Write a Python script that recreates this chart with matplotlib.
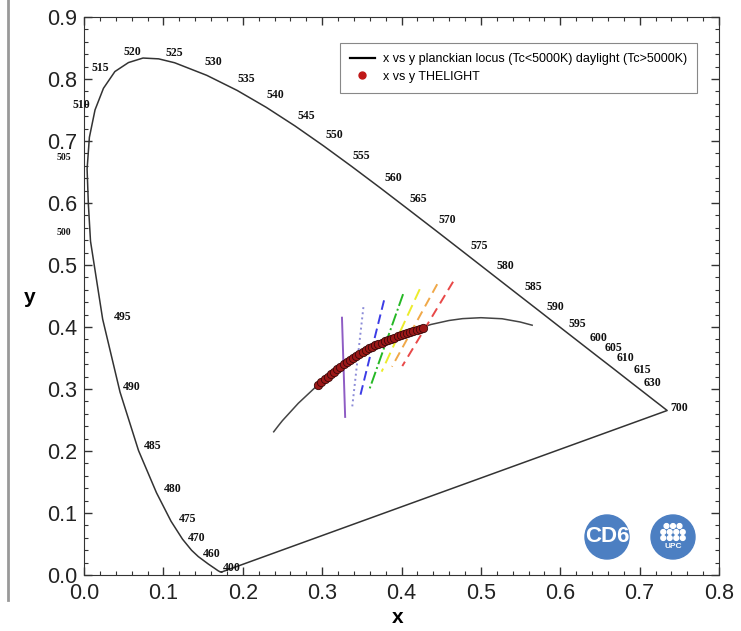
import matplotlib
matplotlib.use('Agg')
import matplotlib.pyplot as plt
import matplotlib.patches as mpatches
from matplotlib.lines import Line2D
from matplotlib.ticker import MultipleLocator

# CIE 1931 spectral locus (wavelength nm, x, y)
locus_nm = [400, 410, 420, 430, 440, 450, 460, 465, 470, 475, 480, 485, 490, 495,
            500, 502.5, 505, 507.5, 510, 512.5, 515, 517.5, 520, 522.5, 525, 530, 535,
            540, 545, 550, 555, 560, 565, 570, 575, 580, 585, 590, 595, 600, 605,
            610, 615, 620, 630, 640, 650, 660, 700]
locus_x = [0.1733, 0.1726, 0.1714, 0.1689, 0.1644, 0.1566, 0.1440, 0.1355, 0.1241, 0.1096,
           0.0913, 0.0687, 0.0454, 0.0235, 0.0082, 0.0055, 0.0039, 0.0068, 0.0139, 0.0245,
           0.0389, 0.0560, 0.0743, 0.0940, 0.1142, 0.1547, 0.1929, 0.2296, 0.2658, 0.3016,
           0.3373, 0.3731, 0.4087, 0.4441, 0.4788, 0.5125, 0.5448, 0.5752, 0.6029, 0.6270,
           0.6482, 0.6658, 0.6801, 0.6915, 0.7079, 0.7190, 0.7260, 0.7300, 0.7347]
locus_y = [0.0048, 0.0048, 0.0051, 0.0069, 0.0109, 0.0177, 0.0297, 0.0399, 0.0578, 0.0868,
           0.1327, 0.2007, 0.2950, 0.4127, 0.5384, 0.5980, 0.6548, 0.7060, 0.7502, 0.7850,
           0.8120, 0.8265, 0.8338, 0.8325, 0.8262, 0.8059, 0.7816, 0.7543, 0.7243, 0.6923,
           0.6589, 0.6245, 0.5896, 0.5547, 0.5202, 0.4866, 0.4544, 0.4242, 0.3965, 0.3725,
           0.3514, 0.3340, 0.3197, 0.3083, 0.2920, 0.2809, 0.2740, 0.2700, 0.2653]

# wavelengths printed next to the locus
label_nm = [400, 460, 470, 475, 480, 485, 490, 495, 500, 505, 510, 515, 520, 525, 530,
            535, 540, 545, 550, 555, 560, 565, 570, 575, 580, 585, 590, 595, 600, 605,
            610, 615, 630, 700]

# planckian locus (Tc<5000K) / daylight locus (Tc>5000K)
planck_x = [0.239, 0.245, 0.250, 0.255, 0.260, 0.270, 0.280, 0.290, 0.300, 0.3127, 0.325,
            0.3457, 0.3611, 0.3805, 0.4053, 0.4369, 0.4599, 0.4770, 0.5000, 0.5267, 0.5494,
            0.5646]
planck_y = [0.231, 0.241, 0.249, 0.256, 0.263, 0.277, 0.289, 0.301, 0.312, 0.325, 0.337,
            0.355, 0.3665, 0.3770, 0.3905, 0.4040, 0.4105, 0.4135, 0.4150, 0.4133, 0.4081,
            0.4029]

# THELIGHT measurements
light_x = [0.295, 0.299, 0.303, 0.307, 0.311, 0.315, 0.319, 0.323, 0.327, 0.331, 0.335,
           0.339, 0.343, 0.347, 0.351, 0.355, 0.359, 0.363, 0.367, 0.371, 0.375, 0.379,
           0.383, 0.387, 0.391, 0.395, 0.399, 0.403, 0.407, 0.411, 0.415, 0.419, 0.423,
           0.427]
light_y = [0.307, 0.311, 0.316, 0.320, 0.324, 0.328, 0.332, 0.336, 0.340, 0.343, 0.347,
           0.350, 0.354, 0.357, 0.360, 0.363, 0.366, 0.368, 0.371, 0.373, 0.375, 0.377,
           0.379, 0.381, 0.383, 0.385, 0.387, 0.389, 0.390, 0.392, 0.393, 0.395, 0.397,
           0.399]

# isotemperature segments (top end, bottom end)
iso_top_x = [0.325, 0.352, 0.378, 0.402, 0.423, 0.445, 0.465]
iso_top_y = [0.415, 0.432, 0.443, 0.453, 0.461, 0.469, 0.473]
iso_bot_x = [0.329, 0.338, 0.348, 0.360, 0.375, 0.388, 0.401]
iso_bot_y = [0.255, 0.272, 0.289, 0.301, 0.328, 0.336, 0.337]
iso_colors = ['#8e5cc4', '#8c8cd8', '#3c3ce6', '#25b825', '#ecec2c', '#f0a848', '#e84848']
iso_styles = ['-', ':', (0, (5, 2.5)), '-.', (0, (6, 3)), (0, (5, 3)), (0, (5, 3))]

# label offsets in pixels (dx, dy) from the locus point
label_off = {400: (10, 4), 460: (13, 3), 470: (14, 1), 475: (17, 2), 480: (16, 4),
             485: (14, 5), 490: (12, 5), 495: (20, 2), 500: (-27, 9), 505: (-23, 12),
             510: (-14, 5), 515: (-15, 4), 520: (-11, 6), 525: (0, 10), 530: (7, 13),
             535: (9, 11), 540: (9, 12), 545: (11, 10), 550: (11, 11), 555: (10, 10),
             560: (13, 10), 565: (10, 10), 570: (11, 11), 575: (15, 6), 580: (15, 7),
             585: (17, 6), 590: (15, 5), 595: (15, 5), 600: (17, 6), 605: (15, 9),
             610: (13, 10), 615: (19, 7), 630: (7, 11), 700: (12, 3)}

fig = plt.figure(figsize=(7.41, 6.31), dpi=100)
ax = fig.add_axes([84 / 741, 56 / 631, 635 / 741, 558 / 631])

# spectral locus + purple line
ax.plot(locus_x + [locus_x[0]], locus_y + [locus_y[0]], color='#333333', lw=1.1, zorder=2)
ax.plot(planck_x, planck_y, color='#444444', lw=1.1, zorder=2)

for i in range(len(iso_top_x)):
    ax.plot([iso_top_x[i], iso_bot_x[i]], [iso_top_y[i], iso_bot_y[i]],
            color=iso_colors[i], ls=iso_styles[i], lw=1.4, zorder=3)

ax.plot(light_x, light_y, 'o', color='#9c1818', mec='#3a0808', mew=0.6, ms=6, zorder=4)

for nm in label_nm:
    k = locus_nm.index(nm)
    dx, dy = label_off[nm]
    small = nm in (500, 505)
    ax.annotate(str(nm), (locus_x[k], locus_y[k]), xytext=(dx, dy),
                textcoords='offset pixels', ha='center', va='center',
                family='Liberation Serif', weight='bold',
                fontsize=7 if small else 8.5, color='#111111', annotation_clip=False)

ax.set_xlim(0, 0.8)
ax.set_ylim(0, 0.9)
ax.xaxis.set_major_locator(MultipleLocator(0.1))
ax.xaxis.set_minor_locator(MultipleLocator(0.02))
ax.yaxis.set_major_locator(MultipleLocator(0.1))
ax.yaxis.set_minor_locator(MultipleLocator(0.02))
ax.tick_params(which='both', direction='in', top=True, right=True, color='#333333')
ax.tick_params(which='major', length=6, width=1)
ax.tick_params(which='minor', length=3, width=0.8)
ax.tick_params(axis='x', which='major', pad=6, labelsize=15.5, labelcolor='#222222')
ax.tick_params(axis='y', which='major', pad=5, labelsize=15.5, labelcolor='#222222')
ax.set_xticklabels([f'{v:.1f}' for v in ax.get_xticks()], family='Liberation Sans')
ax.set_yticklabels([f'{v:.1f}' for v in ax.get_yticks()], family='Liberation Sans')
for s in ax.spines.values():
    s.set_color('#333333')

ax.set_xlabel('x', fontsize=15, weight='bold', family='Liberation Sans', va='center')
ax.xaxis.set_label_coords(0.4945, -0.077)
ax.set_ylabel('y', fontsize=15, weight='bold', family='Liberation Sans', rotation=0,
              va='center', ha='center')
ax.yaxis.set_label_coords(-0.085, 0.498)

handles = [Line2D([], [], color='black', lw=1.6),
           Line2D([], [], marker='o', color='#c01818', ls='none', ms=5)]
leg = ax.legend(handles, ['x vs y planckian locus (Tc<5000K) daylight (Tc>5000K)',
                          'x vs y THELIGHT'],
                loc='upper right', bbox_to_anchor=((697 - 84) / 635, (575 - 43) / 558),
                borderaxespad=0, fancybox=False, framealpha=1, edgecolor='#888888',
                prop={'family': 'Liberation Sans', 'size': 9}, handlelength=2.0,
                handletextpad=0.65, borderpad=0.8, labelspacing=0.45)
leg.get_frame().set_linewidth(0.8)

# left frame line
fig.add_artist(Line2D([8 / 741, 8 / 741], [1, 1 - 600 / 631], transform=fig.transFigure,
                      color='#999999', lw=2))

# logos
tr = fig.dpi_scale_trans
blue = '#4c7fc2'
cy = (631 - 537) / 100
fig.add_artist(mpatches.Circle((6.07, cy), 0.22, transform=tr, color=blue))
fig.text(6.07, cy, 'CD6', transform=tr, ha='center', va='center',
         color='white', weight='bold', fontsize=16, family='Liberation Sans')
fig.add_artist(mpatches.Circle((6.73, cy), 0.22, transform=tr, color=blue))
for row, n in enumerate([3, 4, 4]):
    for c in range(n):
        cx = 6.73 + (c - (n - 1) / 2) * 0.065
        fig.add_artist(mpatches.Circle((cx, cy + 0.11 - row * 0.06), 0.024, transform=tr,
                                       color='white'))
fig.text(6.73, cy - 0.1, 'UPC', transform=tr, ha='center', va='center', color='white',
         weight='bold', fontsize=6, family='Liberation Sans')

fig.savefig('out.png', dpi=100)
